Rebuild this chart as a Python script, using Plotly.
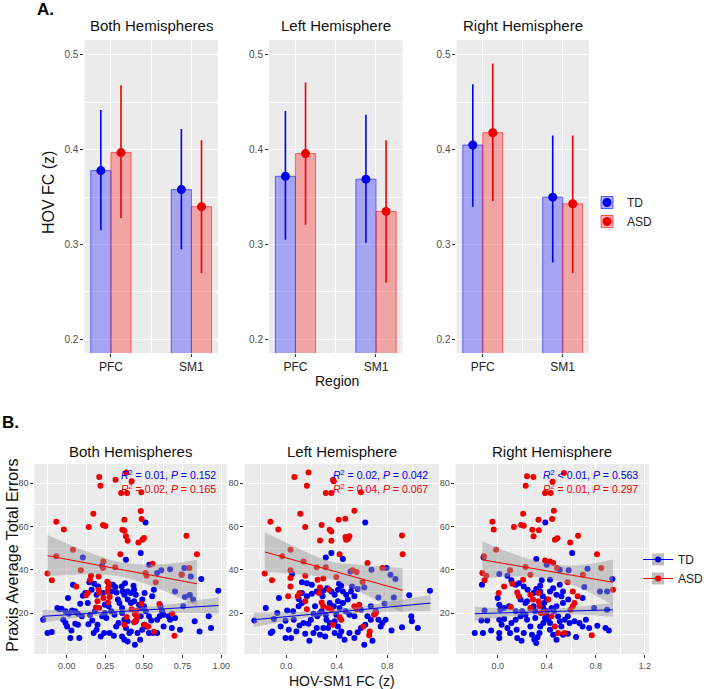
import plotly.graph_objects as go

# ---------------- Panel A data ----------------
regions = ["PFC", "SM1"]
panel_titles = ["Both Hemispheres", "Left Hemisphere", "Right Hemisphere"]
groups = ["TD", "ASD"]

td_mean = [[0.378, 0.358], [0.372, 0.369], [0.405, 0.350]]
td_lo = [[0.315, 0.295], [0.305, 0.302], [0.340, 0.281]]
td_hi = [[0.442, 0.422], [0.441, 0.437], [0.469, 0.415]]
asd_mean = [[0.397, 0.340], [0.396, 0.335], [0.418, 0.343]]
asd_lo = [[0.328, 0.270], [0.321, 0.260], [0.346, 0.270]]
asd_hi = [[0.468, 0.410], [0.471, 0.410], [0.491, 0.415]]

# ---------------- Panel B data (x = HOV-SM1 FC, y = Praxis errors) ----------------
td_both = [(0.51,61.8),(0.479,47.7),(0.104,45.7),(0.383,44.6),(0.229,41.8),(0.612,39.7),(0.761,40.8),(0.871,35.7),(0.981,30.3),(0.534,42.3),(0.585,38.5),(0.701,30.0),(0.765,27.4),(0.797,28.3),(0.04,33.1),(0.008,26.9),(-0.061,22.3),(-0.034,22.0),(-0.153,16.9),(-0.125,10.8),(-0.097,11.2),(-0.023,16.9),(-0.008,15.4),(0.034,21.2),(0.055,20.8),(0.087,24.3),(0.104,28.0),(0.03,12.0),(0.072,14.6),(0.081,8.5),(0.023,8.5),(0.146,34.2),(0.178,33.5),(0.136,24.6),(0.15,19.2),(0.165,16.6),(0.14,14.8),(0.174,10.8),(0.193,12.3),(0.22,9.2),(0.242,10.8),(0.199,14.6),(0.278,10.8),(0.305,9.5),(0.32,13.8),(0.335,15.4),(0.309,19.2),(0.288,20.8),(0.271,23.1),(0.246,20.0),(0.229,18.5),(0.256,17.7),(0.288,30.0),(0.299,33.1),(0.331,26.2),(0.341,24.6),(0.358,22.3),(0.358,20.0),(0.373,16.9),(0.394,16.2),(0.383,13.1),(0.405,10.8),(0.358,9.2),(0.373,7.7),(0.394,6.9),(0.441,5.4),(0.415,11.5),(0.458,10.8),(0.475,7.7),(0.489,12.3),(0.5,14.6),(0.521,13.8),(0.532,10.8),(0.559,10.8),(0.585,10.8),(0.585,16.9),(0.602,18.5),(0.617,20.8),(0.627,19.2),(0.606,23.1),(0.553,27.7),(0.564,30.8),(0.504,29.2),(0.489,26.2),(0.5,23.1),(0.447,28.5),(0.432,32.6),(0.436,30.8),(0.415,29.2),(0.394,30.0),(0.373,28.5),(0.362,30.0),(0.356,32.3),(0.377,33.8),(0.314,32.0),(0.322,29.5),(0.394,26.2),(0.415,24.6),(0.436,25.4),(0.468,23.8),(0.479,22.3),(0.511,20.8),(0.532,18.5),(0.547,16.6),(0.479,18.5),(0.447,16.2),(0.659,18.5),(0.669,16.9),(0.701,17.7),(0.754,23.1),(0.818,26.2),(0.828,16.2),(0.86,11.5),(0.919,18.5),(0.934,13.1),(0.627,13.8),(0.68,13.1),(0.733,12.3),(0.161,30.8),(0.119,29.2),(0.203,32.3),(0.193,28.5),(0.235,29.2),(0.246,23.8),(0.182,20.8),(0.097,18.5),(0.072,19.7),(0.013,19.7),(-0.008,20.8),(-0.047,21.8),(0.055,15.1),(0.002,13.8),(0.744,37.8),(0.803,36.9),(0.669,40.2)]
asd_both = [(0.21,82.8),(0.218,78.8),(0.316,81.5),(0.386,84.9),(0.352,75.4),(0.39,75.4),(0.42,80.8),(0.483,75.8),(0.172,65.8),(-0.068,62.2),(-0.019,58.6),(0.142,59.7),(0.235,60.6),(0.25,60.2),(0.373,63.1),(0.479,67.1),(0.485,63.4),(0.36,58.5),(0.373,58.0),(0.383,55.4),(0.394,53.4),(0.49,53.8),(0.5,54.6),(0.464,52.6),(0.775,55.7),(0.843,47.2),(0.04,49.2),(-0.068,46.2),(-0.125,38.2),(-0.097,35.1),(0.091,39.7),(0.347,47.2),(0.237,43.8),(0.235,40.8),(0.314,41.1),(0.157,37.2),(0.206,36.9),(0.15,35.2),(0.061,32.3),(0.263,34.5),(0.273,33.5),(0.125,28.2),(0.136,29.2),(0.206,30.8),(0.21,29.4),(0.269,31.8),(0.263,29.8),(0.189,22.6),(0.21,22.3),(0.199,25.4),(0.237,26.9),(0.267,24.9),(0.278,27.4),(0.42,21.8),(0.441,19.5),(0.458,18.5),(0.388,18.2),(0.373,14.6),(0.436,15.7),(0.45,16.9),(0.51,38.5),(0.517,37.2),(0.555,42.8),(0.576,34.2),(0.6,24.2),(0.682,19.7),(0.697,9.5),(0.744,37.7),(0.794,40.8),(0.504,14.6),(0.528,13.8),(0.564,11.4),(0.483,24.3),(0.451,21.1)]

td_left = [(0.626,61.8),(0.358,47.7),(0.314,45.7),(0.449,44.9),(0.047,38.0),(0.509,39.2),(0.675,40.0),(0.795,40.8),(0.826,37.7),(0.865,35.7),(1.138,30.3),(0.974,28.2),(0.852,27.2),(0.73,27.2),(0.779,24.3),(0.618,31.8),(-0.057,26.9),(-0.161,22.3),(-0.096,17.2),(-0.252,16.6),(-0.122,10.8),(-0.109,11.5),(-0.005,16.5),(0.008,21.2),(0.055,20.8),(0.125,24.6),(0.099,26.5),(0.125,29.2),(0.164,33.8),(0.203,33.1),(0.125,34.2),(0.021,12.3),(0.039,8.5),(-0.005,8.5),(0.081,11.5),(0.106,14.3),(0.138,15.4),(0.151,10.5),(0.184,7.2),(0.216,10.8),(0.242,13.1),(0.268,10.0),(0.309,9.2),(0.332,13.1),(0.345,15.4),(0.314,19.2),(0.281,20.8),(0.247,18.5),(0.216,19.7),(0.195,16.9),(0.177,15.1),(0.288,27.7),(0.294,30.3),(0.325,31.5),(0.358,30.0),(0.384,28.5),(0.418,33.5),(0.436,32.6),(0.41,30.8),(0.449,30.0),(0.475,28.5),(0.514,30.0),(0.54,27.7),(0.566,31.1),(0.522,32.3),(0.488,26.2),(0.449,24.6),(0.41,25.4),(0.377,23.1),(0.345,24.6),(0.423,22.3),(0.47,20.8),(0.501,19.2),(0.54,18.5),(0.397,19.2),(0.384,16.2),(0.41,13.8),(0.436,11.5),(0.384,10.8),(0.423,9.5),(0.462,7.7),(0.501,10.8),(0.54,8.5),(0.566,11.1),(0.618,5.4),(0.592,13.1),(0.626,14.6),(0.683,7.2),(0.644,18.5),(0.67,16.9),(0.73,16.9),(0.748,13.8),(0.761,15.4),(0.787,16.9),(0.834,12.0),(0.917,13.5),(0.99,18.5),(0.995,16.2),(1.042,13.1),(0.592,21.5),(0.67,23.1),(0.709,20.8),(0.164,27.7),(0.203,28.9),(0.242,30.0),(0.099,23.1),(0.229,23.1),(0.268,20.0),(0.06,16.9),(-0.044,13.8),(-0.07,20.0),(0.294,13.1),(0.319,16.9)]
asd_left = [(0.065,82.8),(0.177,84.9),(0.164,78.8),(0.371,81.5),(0.377,80.8),(0.314,75.4),(0.358,75.4),(0.592,75.8),(0.112,65.8),(-0.125,62.2),(-0.062,58.6),(0.151,59.7),(0.281,60.6),(0.416,63.1),(0.54,67.2),(0.468,63.5),(0.345,58.5),(0.358,57.7),(0.268,53.5),(0.358,53.4),(0.47,55.1),(0.488,54.2),(0.475,53.8),(0.501,55.4),(0.917,55.8),(0.922,47.2),(0.034,49.2),(-0.031,46.2),(-0.169,38.2),(-0.112,35.1),(0.034,39.7),(0.423,47.2),(0.138,43.8),(0.242,41.1),(0.314,41.1),(0.151,37.2),(0.034,36.2),(0.294,36.0),(0.249,35.4),(0.397,36.6),(0.527,39.7),(0.558,38.9),(0.644,43.1),(0.761,40.8),(0.605,34.3),(0.034,32.3),(0.016,27.7),(0.091,27.7),(0.106,29.2),(0.26,29.2),(0.268,31.8),(0.34,30.8),(0.164,21.8),(0.151,25.4),(0.281,24.9),(0.294,23.1),(0.332,22.3),(0.358,21.5),(0.423,18.2),(0.436,16.9),(0.371,14.6),(0.54,23.1),(0.579,23.8),(0.558,21.8),(0.61,13.8),(0.662,11.5),(0.657,9.7),(0.696,19.2),(0.709,20.0)]

td_right = [(0.389,61.8),(0.608,47.7),(0.315,44.9),(-0.115,45.7),(0.013,38.0),(-0.128,33.1),(0.08,37.2),(0.4,42.3),(0.507,40.0),(0.579,39.7),(0.733,40.5),(0.936,35.7),(0.707,32.0),(0.693,26.9),(0.835,30.0),(0.893,30.0),(0.787,22.3),(0.893,21.5),(-0.107,21.2),(-0.133,16.6),(-0.085,16.6),(-0.187,10.8),(-0.12,10.8),(-0.053,12.0),(0.0,26.9),(0.013,23.8),(0.021,21.5),(0.053,22.3),(0.093,23.1),(0.013,16.9),(0.032,14.6),(0.053,17.2),(0.013,10.8),(0.013,8.5),(0.08,13.1),(0.101,10.8),(0.112,15.4),(0.147,16.9),(0.155,12.3),(0.16,8.5),(0.195,7.2),(0.213,10.8),(0.187,18.5),(0.2,20.8),(0.227,19.2),(0.24,16.9),(0.267,13.8),(0.28,10.0),(0.299,7.7),(0.315,6.2),(0.325,8.8),(0.341,10.8),(0.347,13.8),(0.373,15.4),(0.387,17.7),(0.4,18.5),(0.413,16.9),(0.427,15.4),(0.4,20.8),(0.373,22.3),(0.379,24.6),(0.4,26.2),(0.368,27.7),(0.347,30.0),(0.347,32.6),(0.315,31.1),(0.293,29.2),(0.245,30.8),(0.213,32.3),(0.173,33.8),(0.147,33.1),(0.112,35.1),(0.187,26.2),(0.227,24.6),(0.293,23.1),(0.307,20.8),(0.44,22.3),(0.459,20.8),(0.48,23.1),(0.493,18.5),(0.507,16.2),(0.52,13.8),(0.547,16.9),(0.573,18.5),(0.587,15.4),(0.627,16.2),(0.667,15.4),(0.693,13.8),(0.72,16.9),(0.747,13.1),(0.813,14.1),(0.88,13.1),(0.907,12.0),(0.427,12.3),(0.453,10.0),(0.48,7.7),(0.533,10.0),(0.573,10.5),(0.64,8.9),(0.427,30.0),(0.453,31.5),(0.48,28.5),(0.52,27.7),(0.533,24.6),(0.507,33.1),(0.533,30.0),(0.576,26.2),(0.36,35.1),(0.427,35.4),(0.24,25.4),(0.307,17.7),(0.147,20.8)]
asd_right = [(0.24,83.1),(0.291,82.8),(0.229,78.8),(0.541,84.6),(0.448,80.6),(0.387,75.4),(0.432,75.4),(0.208,65.8),(0.459,67.2),(-0.043,62.2),(-0.032,58.6),(0.133,59.7),(0.192,60.6),(0.213,60.3),(0.333,63.1),(0.445,63.4),(0.283,58.5),(0.336,58.2),(0.293,55.4),(0.467,53.8),(0.488,54.5),(0.592,52.6),(0.656,55.7),(0.811,47.2),(-0.013,49.2),(-0.112,46.2),(-0.125,38.5),(-0.107,35.1),(-0.093,37.2),(0.101,39.7),(0.387,44.2),(0.427,43.8),(0.453,43.1),(0.485,40.8),(0.227,41.2),(0.267,37.7),(0.208,35.4),(0.053,32.3),(0.12,33.5),(0.008,29.2),(0.16,29.5),(0.173,27.7),(0.267,28.5),(0.288,26.2),(0.333,29.2),(0.267,22.3),(0.107,22.8),(0.333,25.4),(0.341,23.1),(0.352,20.0),(0.413,26.2),(0.467,13.8),(0.44,18.5),(0.493,10.8),(0.547,10.8),(0.595,21.5),(0.613,23.1),(0.627,24.6),(0.613,30.0),(0.653,27.7),(0.571,34.2),(0.696,37.7),(0.845,40.8),(0.941,30.8),(0.768,9.7),(0.379,20.3)]

# Linear fits (end points) and 95% CI bands
fit_td_x = [[-0.157, 0.983], [-0.257, 1.143], [-0.187, 0.941]]
fit_td_y = [[18.5, 23.5], [16.9, 24.6], [19.7, 21.5]]
fit_asd_x = [[-0.125, 0.843], [-0.169, 0.922], [-0.125, 0.941]]
fit_asd_y = [[46.5, 33.5], [48.2, 30.5], [44.6, 34.2]]

band_td_x = [[-0.157, 0.1, 0.35, 0.6, 0.983], [-0.257, 0.1, 0.35, 0.7, 1.143], [-0.187, 0.1, 0.35, 0.6, 0.941]]
band_td_lo = [[15.6, 17.9, 19.5, 20.1, 19.7], [13.5, 17.3, 19.0, 20.4, 20.9], [16.5, 18.4, 19.4, 19.4, 18.3]]
band_td_hi = [[21.4, 21.3, 21.9, 23.5, 27.3], [20.3, 20.5, 21.4, 24.0, 28.3], [22.9, 22.0, 21.8, 22.6, 24.7]]
band_asd_x = [[-0.125, 0.1, 0.35, 0.6, 0.843], [-0.169, 0.1, 0.35, 0.6, 0.922], [-0.125, 0.15, 0.4, 0.65, 0.941]]
band_asd_lo = [[37.0, 37.8, 36.8, 31.1, 23.0], [39.1, 37.8, 35.8, 29.2, 20.2], [36.0, 36.9, 36.0, 32.0, 23.7]]
band_asd_hi = [[56.0, 49.2, 43.4, 42.5, 44.5], [57.3, 49.8, 43.8, 42.2, 40.8], [53.2, 46.9, 43.0, 42.0, 44.7]]

stats_td = ["<i>R</i><sup>2</sup> = 0.01, <i>P</i> = 0.152", "<i>R</i><sup>2</sup> = 0.02, <i>P</i> = 0.042", "<i>R</i><sup>2</sup> &lt; 0.01, <i>P</i> = 0.563"]
stats_asd = ["<i>R</i><sup>2</sup> = 0.02, <i>P</i> = 0.165", "<i>R</i><sup>2</sup> = 0.04, <i>P</i> = 0.067", "<i>R</i><sup>2</sup> = 0.01, <i>P</i> = 0.297"]

# ---------------- styling ----------------
FONT = "Liberation Sans, Arial, sans-serif"
BLUE = "#0000ee"
RED = "#ee0000"
PANEL_BG = "#ebebeb"
BAND = "rgba(150,150,150,0.45)"
W, H = 709, 689

def px_x(p):
    return p / W

def px_y(p):
    return 1 - p / H

a_xdom = [(86, 222), (274, 410), (465, 600)]
a_ydom = (40, 353)
b_xdom = [(35, 231), (249, 447), (464, 661)]
b_ydom = (464, 654)
b_xrange = [[-0.21, 1.036], [-0.33, 1.208], [-0.344, 1.234]]
b_major = [[0, 0.25, 0.5, 0.75, 1.0], [0, 0.4, 0.8], [0, 0.4, 0.8, 1.2]]
b_minor = [[-0.125, 0.125, 0.375, 0.625, 0.875], [-0.2, 0.2, 0.6, 1.0], [-0.2, 0.2, 0.6, 1.0]]
b_fmt = [".2f", ".1f", ".1f"]

fig = go.Figure()
layout = dict(width=W, height=H, margin=dict(l=0, r=0, t=0, b=0),
              paper_bgcolor="white", font=dict(family=FONT, color="#222"),
              showlegend=True, barmode="overlay")

cat_pos = list(range(len(regions)))
off = 0.125
bw = 0.25

for i in range(3):
    xa = "x" if i == 0 else f"x{i+1}"
    ya = "y" if i == 0 else f"y{i+1}"
    td_x = [c - off for c in cat_pos]
    asd_x = [c + off for c in cat_pos]
    fig.add_trace(go.Bar(x=td_x, y=td_mean[i], width=bw, xaxis=xa, yaxis=ya,
                         marker=dict(color="rgba(0,0,255,0.3)", line=dict(color="rgba(0,0,255,0.55)", width=1)),
                         showlegend=False, hoverinfo="skip"))
    fig.add_trace(go.Bar(x=asd_x, y=asd_mean[i], width=bw, xaxis=xa, yaxis=ya,
                         marker=dict(color="rgba(255,0,0,0.3)", line=dict(color="rgba(255,0,0,0.55)", width=1)),
                         showlegend=False, hoverinfo="skip"))
    fig.add_trace(go.Scatter(x=td_x, y=td_mean[i], mode="markers", xaxis=xa, yaxis=ya,
                             marker=dict(color=BLUE, size=9),
                             error_y=dict(type="data", symmetric=False,
                                          array=[h - m for h, m in zip(td_hi[i], td_mean[i])],
                                          arrayminus=[m - l for m, l in zip(td_mean[i], td_lo[i])],
                                          width=0, thickness=1.6, color=BLUE),
                             showlegend=False))
    fig.add_trace(go.Scatter(x=asd_x, y=asd_mean[i], mode="markers", xaxis=xa, yaxis=ya,
                             marker=dict(color=RED, size=9),
                             error_y=dict(type="data", symmetric=False,
                                          array=[h - m for h, m in zip(asd_hi[i], asd_mean[i])],
                                          arrayminus=[m - l for m, l in zip(asd_mean[i], asd_lo[i])],
                                          width=0, thickness=1.6, color=RED),
                             showlegend=False))
    xkey = "xaxis" if i == 0 else f"xaxis{i+1}"
    ykey = "yaxis" if i == 0 else f"yaxis{i+1}"
    layout[xkey] = dict(domain=[px_x(a_xdom[i][0]), px_x(a_xdom[i][1])], anchor=ya,
                        range=[-0.329, 1.329], tickmode="array", tickvals=cat_pos, ticktext=regions,
                        showgrid=True, gridcolor="white", gridwidth=1.1, zeroline=False,
                        minor=dict(tickmode="array", tickvals=[0.5], showgrid=True, gridcolor="white", gridwidth=0.5),
                        ticks="outside", ticklen=3, tickcolor="#333", tickfont=dict(size=12, color="#222"))
    layout[ykey] = dict(domain=[px_y(a_ydom[1]), px_y(a_ydom[0])], anchor=xa,
                        range=[0.1856, 0.5158], tickmode="array", tickvals=[0.2, 0.3, 0.4, 0.5],
                        ticktext=["0.2", "0.3", "0.4", "0.5"],
                        showgrid=True, gridcolor="white", gridwidth=1.1, zeroline=False,
                        minor=dict(tickmode="array", tickvals=[0.25, 0.35, 0.45], showgrid=True, gridcolor="white", gridwidth=0.5),
                        ticks="outside", ticklen=3, tickcolor="#333", tickfont=dict(size=10, color="#4d4d4d"))

# ---------------- Panel B ----------------
td_sets = [td_both, td_left, td_right]
asd_sets = [asd_both, asd_left, asd_right]
for i in range(3):
    n = 4 + i
    xa, ya = f"x{n}", f"y{n}"
    tx, ty = zip(*td_sets[i])
    axx, axy = zip(*asd_sets[i])
    fig.add_trace(go.Scatter(x=list(tx), y=list(ty), mode="markers", xaxis=xa, yaxis=ya,
                             marker=dict(color=BLUE, size=6), showlegend=False))
    fig.add_trace(go.Scatter(x=list(axx), y=list(axy), mode="markers", xaxis=xa, yaxis=ya,
                             marker=dict(color=RED, size=6), showlegend=False))
    for bx, lo, hi in [(band_asd_x[i], band_asd_lo[i], band_asd_hi[i]), (band_td_x[i], band_td_lo[i], band_td_hi[i])]:
        fig.add_trace(go.Scatter(x=bx, y=lo, mode="lines", line=dict(width=0, shape="spline", smoothing=1.0),
                                 xaxis=xa, yaxis=ya, showlegend=False, hoverinfo="skip"))
        fig.add_trace(go.Scatter(x=bx, y=hi, mode="lines", fill="tonexty", fillcolor=BAND,
                                 line=dict(width=0, shape="spline", smoothing=1.0),
                                 xaxis=xa, yaxis=ya, showlegend=False, hoverinfo="skip"))
    fig.add_trace(go.Scatter(x=fit_asd_x[i], y=fit_asd_y[i], mode="lines", xaxis=xa, yaxis=ya,
                             line=dict(color=RED, width=1), showlegend=False))
    fig.add_trace(go.Scatter(x=fit_td_x[i], y=fit_td_y[i], mode="lines", xaxis=xa, yaxis=ya,
                             line=dict(color=BLUE, width=1), showlegend=False))
    layout[f"xaxis{n}"] = dict(domain=[px_x(b_xdom[i][0]), px_x(b_xdom[i][1])], anchor=ya,
                               range=b_xrange[i], tickmode="array", tickvals=b_major[i],
                               tickformat=b_fmt[i],
                               showgrid=True, gridcolor="white", gridwidth=1.1, zeroline=False,
                               minor=dict(tickmode="array", tickvals=b_minor[i], showgrid=True, gridcolor="white", gridwidth=0.5),
                               ticks="outside", ticklen=3, tickcolor="#333", tickfont=dict(size=9, color="#4d4d4d"))
    layout[f"yaxis{n}"] = dict(domain=[px_y(b_ydom[1]), px_y(b_ydom[0])], anchor=xa,
                               range=[1.1, 88.8], tickmode="array", tickvals=[20, 40, 60, 80],
                               showgrid=True, gridcolor="white", gridwidth=1.1, zeroline=False,
                               minor=dict(tickmode="array", tickvals=[10, 30, 50, 70], showgrid=True, gridcolor="white", gridwidth=0.5),
                               ticks="outside", ticklen=3, tickcolor="#333", tickfont=dict(size=9, color="#4d4d4d"))

# ---------------- Legends ----------------
# Key backgrounds (squares) carry the labels; overlay legends add the dot/line glyphs only.
for g, fill, line in [("TD", "rgba(0,0,255,0.3)", "rgba(0,0,255,0.6)"), ("ASD", "rgba(255,0,0,0.3)", "rgba(255,0,0,0.6)")]:
    fig.add_trace(go.Bar(x=[None], y=[None], name=g, legend="legend",
                         marker=dict(color=fill, line=dict(color=line, width=1))))
for g, c in [("TD", BLUE), ("ASD", RED)]:
    fig.add_trace(go.Scatter(x=[None], y=[None], name=" ", mode="markers", legend="legend2",
                             marker=dict(color=c, size=9)))
for g in groups:
    fig.add_trace(go.Bar(x=[None], y=[None], name=g, legend="legend3",
                         marker=dict(color="rgba(190,190,190,1)", line=dict(width=0))))
for g, c in [("TD", BLUE), ("ASD", RED)]:
    fig.add_trace(go.Scatter(x=[None], y=[None], name=" ", mode="lines+markers", legend="legend4",
                             marker=dict(color=c, size=6), line=dict(color=c, width=1)))

legA = dict(x=px_x(598), y=px_y(188), xanchor="left", yanchor="top", bgcolor="rgba(0,0,0,0)",
            font=dict(size=12, color="#222"), tracegroupgap=0, traceorder="normal")
legB = dict(x=px_x(650), y=px_y(545), xanchor="left", yanchor="top", bgcolor="rgba(0,0,0,0)",
            font=dict(size=12, color="#222"), tracegroupgap=0, traceorder="normal")
layout["legend"] = dict(legA)
layout["legend2"] = dict(legA)
layout["legend3"] = dict(legB)
layout["legend4"] = dict(legB)

# ---------------- Annotations ----------------
ann = []
ann.append(dict(text="<b>A.</b>", x=px_x(36), y=px_y(10), xref="paper", yref="paper",
                xanchor="left", yanchor="middle", showarrow=False, font=dict(size=17, color="black")))
ann.append(dict(text="<b>B.</b>", x=px_x(0), y=px_y(423), xref="paper", yref="paper",
                xanchor="left", yanchor="middle", showarrow=False, font=dict(size=17, color="black")))
for i in range(3):
    cx = (a_xdom[i][0] + a_xdom[i][1]) / 2
    ann.append(dict(text=panel_titles[i], x=px_x(cx), y=px_y(26), xref="paper", yref="paper",
                    xanchor="center", yanchor="middle", showarrow=False, font=dict(size=15, color="#111")))
    cx = (b_xdom[i][0] + b_xdom[i][1]) / 2
    ann.append(dict(text=panel_titles[i], x=px_x(cx), y=px_y(451), xref="paper", yref="paper",
                    xanchor="center", yanchor="middle", showarrow=False, font=dict(size=15, color="#111")))
    n = 4 + i
    ann.append(dict(text=stats_td[i], x=0.955, y=0.945, xref=f"x{n} domain", yref=f"y{n} domain",
                    xanchor="right", yanchor="middle", showarrow=False, font=dict(size=10.5, color=BLUE)))
    ann.append(dict(text=stats_asd[i], x=0.955, y=0.87, xref=f"x{n} domain", yref=f"y{n} domain",
                    xanchor="right", yanchor="middle", showarrow=False, font=dict(size=10.5, color=RED)))
ann.append(dict(text="HOV FC (z)", x=px_x(49), y=px_y(192), xref="paper", yref="paper", textangle=-90,
                xanchor="center", yanchor="middle", showarrow=False, font=dict(size=16, color="#111")))
ann.append(dict(text="Region", x=px_x(343), y=px_y(381), xref="paper", yref="paper",
                xanchor="center", yanchor="middle", showarrow=False, font=dict(size=14, color="#111")))
ann.append(dict(text="Praxis Average Total Errors", x=px_x(12), y=px_y(555), xref="paper", yref="paper", textangle=-90,
                xanchor="center", yanchor="middle", showarrow=False, font=dict(size=16, color="#111")))
ann.append(dict(text="HOV-SM1 FC (z)", x=px_x(348), y=px_y(681), xref="paper", yref="paper",
                xanchor="center", yanchor="middle", showarrow=False, font=dict(size=14, color="#111")))
layout["annotations"] = ann
layout["plot_bgcolor"] = PANEL_BG

fig.update_layout(**layout)
fig.write_html("out.html")
